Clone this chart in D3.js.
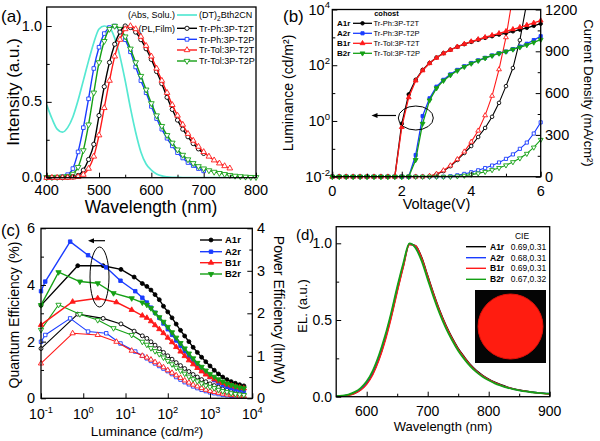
<!DOCTYPE html>
<html><head><meta charset="utf-8">
<script src="https://cdn.jsdelivr.net/npm/d3@7"></script>
<style>html,body{margin:0;padding:0;background:#fff;}</style>
</head><body>
<svg id="chart" width="600" height="441" xmlns="http://www.w3.org/2000/svg"></svg>
<script>
// ================= DATA =================
// (a) absorption / PL spectra
const wlPL = [400,410,420,430,440,450,460,470,480,490,500,510,520,530,540,550,560,570,580,590,600,610,620,630,640,650,660,670,680,690,700,710,720,730,740,750,760,770,780,790,800];
const absDT = [.48,.39,.32,.30,.33,.40,.51,.64,.77,.89,.98,1.0,.99,.92,.80,.64,.46,.30,.17,.09,.05,.025,.012,.006,.003,.002,.001,0,0,0,0,0,0,0,0,0,0,0,0,0,0];
const plPhT2T = [0,0,0,0,.002,.005,.015,.05,.12,.22,.41,.6,.76,.88,.96,1.0,.99,.96,.91,.85,.78,.70,.62,.53,.45,.38,.32,.27,.225,.19,.16,null,null,null,null,null,null,null,null,null,null];
const plPhT2P = [0,0,.003,.007,.02,.06,.17,.33,.52,.72,.86,.95,.99,1.0,.97,.91,.83,.73,.64,.56,.47,.39,.32,.26,.21,.165,.13,.10,.08,.06,.045,null,null,null,null,null,null,null,null,null,null];
const plTolT2T = [0,0,0,0,0,.002,.006,.02,.06,.14,.28,.46,.64,.8,.91,.98,1.0,.98,.93,.87,.8,.72,.64,.56,.48,.41,.35,.29,.245,.205,.17,.14,.115,.095,.077,.062,null,null,null,null,null];
const plTolT2P = [.003,.004,.005,.006,.01,.025,.07,.18,.35,.56,.76,.9,.98,1.0,.98,.93,.85,.76,.67,.58,.49,.41,.34,.28,.23,.185,.15,.12,.095,.075,.06,.048,.038,.03,.023,.017,.012,.009,.006,.004,.003];
const aNames = ["Tr-Ph:3P-T2T","Tr-Ph:3P-T2P","Tr-Tol:3P-T2T","Tr-Tol:3P-T2P"];
const aXTicks = [400,500,600,700,800];
const aYTicks = [0,0.5,1.0];

// (b) L-J-V
const volts = [0,0.2,0.4,0.6,0.8,1.0,1.2,1.4,1.6,1.8,2.0,2.2,2.4,2.6,2.8,3.0,3.2,3.4,3.6,3.8,4.0,4.2,4.4,4.6,4.8,5.0,5.2,5.4,5.6,5.8,6.0];
const lumA1r = [.01,.01,.01,.01,.01,.01,.01,.01,.01,.01,0.8,9,30,68,120,190,270,360,460,570,690,820,960,1100,1260,1430,1650,1900,2200,2600,3100];
const lumA2r = [.01,.01,.01,.01,.01,.01,.01,.01,.01,.01,.01,.01,0.06,1.5,6.5,17,30,47,68,92,120,150,185,225,270,310,380,470,590,800,1100];
const lumB1r = [.01,.01,.01,.01,.01,.01,.01,.01,.01,.01,0.6,7,28,65,118,185,265,355,460,580,710,850,1010,1190,1400,1650,1950,2300,2750,3300,4000];
const lumB2r = [.01,.01,.01,.01,.01,.01,.01,.01,.01,.01,.01,.01,0.04,0.8,5.5,15,28,44,64,88,115,145,180,220,265,310,370,440,530,660,830];
const jA1r = [0,0,0,0,0,0,0,0,0,0,0,0,0,0,3,18,40,75,120,170,220,285,350,430,530,650,780,980,1250,null,null];
const jA2r = [0,0,0,0,0,0,0,0,0,0,0,0,0,0,0,0,0,3,10,20,32,46,62,80,102,128,160,200,245,310,390];
const jB1r = [0,0,0,0,0,0,0,0,0,0,0,0,0,0,5,20,45,80,125,180,250,330,440,580,770,1000,1300,null,null,null,null];
const jB2r = [0,0,0,0,0,0,0,0,0,0,0,0,0,0,0,0,0,0,3,8,15,24,35,48,63,82,105,132,165,210,265];
const bDevices = ["A1r","A2r","B1r","B2r"];
const bHosts = ["Tr-Ph:3P-T2T","Tr-Ph:3P-T2P","Tr-Tol:3P-T2T","Tr-Tol:3P-T2P"];

// (c) efficiencies vs luminance
const lumCA1r = [0.1,0.74,2.95,7.8,16,25,32,40,50,63,79,100,126,158,200,251,316,398,501,631,794,1000,1259,1585,1995,2512,3162,3981,5012,6310];
const eqeA1r = [3.28,4.68,4.68,4.55,4.28,4.05,3.95,3.82,3.66,3.48,3.25,3.05,2.84,2.62,2.4,2.2,2.0,1.8,1.62,1.45,1.29,1.14,0.99,0.86,0.75,0.66,0.59,0.53,0.48,0.44];
const peA1r = [1.17,1.98,1.88,1.75,1.58,1.47,1.41,1.33,1.25,1.17,1.08,1.0,0.92,0.84,0.77,0.7,0.63,0.56,0.5,0.44,0.39,0.34,0.3,0.26,0.22,0.19,0.16,0.13,0.11,0.09];
const lumCA2r = [0.1,0.126,0.49,1.3,3.5,7.6,17,25,32,40,50,63,79,100,126,158,200,251,316,398,501,631,794,1000,1259,1585,1995,2512,3162,3981,5012,6310];
const eqeA2r = [3.78,4.12,5.53,5.05,4.62,4.15,3.78,3.55,3.38,3.2,3.02,2.84,2.64,2.44,2.24,2.04,1.85,1.66,1.48,1.31,1.15,1.0,0.87,0.75,0.64,0.55,0.47,0.41,0.36,0.32,0.29,0.27];
const peA2r = [1.33,1.49,1.88,1.57,1.53,1.29,1.1,1.0,0.94,0.88,0.82,0.76,0.7,0.64,0.57,0.5,0.44,0.38,0.33,0.28,0.24,0.2,0.17,0.14,0.12,0.1,0.08,0.07,0.06,0.05,0.04,0.04];
const lumCB1r = [0.1,0.56,2.2,6.1,14,25,32,40,50,63,79,100,126,158,200,251,316,398,501,631,794,1000,1259,1585,1995,2512,3162,3981,5012,6310];
const eqeB1r = [2.59,3.41,3.53,3.39,3.12,2.92,2.84,2.72,2.58,2.44,2.3,2.14,1.98,1.81,1.65,1.49,1.34,1.2,1.07,0.95,0.84,0.75,0.67,0.6,0.54,0.49,0.45,0.41,0.38,0.35];
const peB1r = [0.82,1.53,1.49,1.33,1.12,1.0,0.96,0.91,0.85,0.79,0.73,0.66,0.6,0.54,0.48,0.42,0.37,0.32,0.28,0.24,0.2,0.17,0.15,0.13,0.11,0.09,0.08,0.07,0.06,0.05];
const lumCB2r = [0.1,0.26,0.83,2.2,5.2,14,25,32,40,50,63,79,100,126,158,200,251,316,398,501,631,794,1000,1259,1585,1995,2512,3162,3981,5012,6310];
const eqeB2r = [3.29,4.45,4.12,4.06,3.71,3.53,3.38,3.3,3.18,3.02,2.86,2.7,2.52,2.33,2.14,1.95,1.76,1.58,1.41,1.25,1.11,0.98,0.86,0.76,0.67,0.59,0.52,0.47,0.42,0.38,0.35];
const peB2r = [1.61,2.2,1.98,1.84,1.65,1.49,1.33,1.26,1.18,1.11,1.04,0.96,0.88,0.8,0.72,0.65,0.58,0.51,0.45,0.4,0.35,0.3,0.27,0.24,0.2,0.17,0.15,0.12,0.1,0.09,0.08];
const cXTicks = [0.1,1,10,100,1000,10000];
const cXExp = ["-1","0","1","2","3","4"];

// (d) EL spectra
const wlEL = [550,560,570,580,590,600,610,620,630,640,650,660,670,680,690,700,710,720,730,740,750,760,770,780,790,800,810,820,830,840,850,860,870,880,890,900];
const elA1r = [0.003,0.005,0.01,0.022,0.045,0.085,0.15,0.245,0.37,0.52,0.69,0.85,0.995,0.985,0.91,0.79,0.67,0.56,0.465,0.385,0.315,0.26,0.21,0.17,0.14,0.115,0.095,0.078,0.064,0.053,0.044,0.037,0.031,0.026,0.022,0.019];
const elA2r = [0.003,0.006,0.012,0.026,0.05,0.094,0.162,0.26,0.385,0.535,0.705,0.86,0.995,0.975,0.895,0.775,0.655,0.545,0.452,0.374,0.305,0.25,0.202,0.164,0.134,0.11,0.09,0.074,0.061,0.05,0.042,0.035,0.03,0.026,0.023,0.021];
const elB1r = [0.002,0.004,0.009,0.02,0.042,0.08,0.143,0.237,0.36,0.51,0.68,0.845,0.99,0.985,0.905,0.785,0.665,0.555,0.46,0.38,0.31,0.255,0.205,0.166,0.136,0.112,0.092,0.076,0.062,0.051,0.043,0.036,0.03,0.025,0.021,0.018];
const elB2r = [0.004,0.007,0.014,0.03,0.056,0.1,0.17,0.27,0.395,0.545,0.715,0.87,1.0,0.97,0.885,0.765,0.645,0.538,0.445,0.368,0.3,0.245,0.198,0.16,0.13,0.107,0.087,0.072,0.059,0.049,0.041,0.034,0.029,0.025,0.022,0.02];
const cieLabels = ["0.69,0.31","0.68,0.31","0.69,0.31","0.67,0.32"];

// ================= DRAWING =================
const svg = d3.select("#chart");
const F = "Arial, 'Liberation Sans', Helvetica, sans-serif";
const BLACK="#000000", BLUE="#1a3cff", RED="#ff1a1a", GREEN="#15a015", CYAN="#55e8d2";
const SYM = {
  circle:{type:d3.symbolCircle, rot:false},
  square:{type:d3.symbolSquare, rot:false},
  up:{type:d3.symbolTriangle, rot:false},
  down:{type:d3.symbolTriangle, rot:true}
};

function text(g,x,y,s,o={}){
  const t=g.append("text").attr("x",x).attr("y",y).attr("font-family",F)
    .attr("font-size",o.size||12).attr("fill",o.fill||"#000");
  if(o.anchor) t.attr("text-anchor",o.anchor);
  if(o.weight) t.attr("font-weight",o.weight);
  if(o.rotate!=null) t.attr("transform",`rotate(${o.rotate},${x},${y})`);
  t.text(s);
  return t;
}
function supText(g,x,y,base,exp,o={}){
  const size=o.size||12;
  const t=g.append("text").attr("x",x).attr("y",y).attr("font-family",F)
    .attr("font-size",size).attr("text-anchor",o.anchor||"middle").attr("fill","#000");
  t.append("tspan").text(base);
  t.append("tspan").attr("dy",-size*0.42).attr("font-size",size*0.66).text(exp);
  return t;
}
function frame(g,x0,y0,x1,y1){
  g.append("rect").attr("x",x0).attr("y",y0).attr("width",x1-x0).attr("height",y1-y0)
    .attr("fill","none").attr("stroke","#000").attr("stroke-width",1.3);
}
function ticks(g,scale,orient,at,values,len){
  const gen={bottom:d3.axisBottom,left:d3.axisLeft,right:d3.axisRight,top:d3.axisTop}[orient](scale)
    .tickValues(values).tickSize(-len).tickFormat("");
  const a=g.append("g").attr("transform",(orient==="bottom"||orient==="top")?`translate(0,${at})`:`translate(${at},0)`).call(gen);
  a.select(".domain").remove();
  a.selectAll("line").attr("stroke","#000").attr("stroke-width",1);
}
function series(g,xs,ys,x,y,color,sym,size,filled,lw,curve,clipId){
  const pts=xs.map((v,i)=>[v,ys[i]]).filter(d=>d[1]!=null);
  const p=g.append("path").datum(pts)
    .attr("d",d3.line().x(d=>x(d[0])).y(d=>y(d[1])).curve(curve||d3.curveLinear))
    .attr("fill","none").attr("stroke",color).attr("stroke-width",lw).attr("stroke-linejoin","round");
  if(clipId) p.attr("clip-path",`url(#${clipId})`);
  if(sym){
    const [ylo,yhi]=d3.extent(y.range());
    g.selectAll(null).data(pts.filter(d=>y(d[1])>=ylo-1 && y(d[1])<=yhi+1)).enter().append("path")
      .attr("d",d3.symbol().type(sym.type).size(size))
      .attr("transform",d=>`translate(${x(d[0])},${y(d[1])})${sym.rot?" rotate(180)":""}`)
      .attr("fill",filled?color:"#fff").attr("stroke",color).attr("stroke-width",0.9);
  }
}
function legendMark(g,x0,x1,yc,color,sym,size,filled,lw){
  g.append("line").attr("x1",x0).attr("x2",x1).attr("y1",yc).attr("y2",yc).attr("stroke",color).attr("stroke-width",lw);
  if(sym) g.append("path").attr("d",d3.symbol().type(sym.type).size(size))
    .attr("transform",`translate(${(x0+x1)/2},${yc})${sym.rot?" rotate(180)":""}`)
    .attr("fill",filled?color:"#fff").attr("stroke",color).attr("stroke-width",0.9);
}
function arrowLeft(g,x1,x2,y){
  g.append("line").attr("x1",x1).attr("x2",x2+4).attr("y1",y).attr("y2",y).attr("stroke","#000").attr("stroke-width",1.2);
  g.append("path").attr("d",`M${x2},${y} L${x2+6},${y-2.5} L${x2+6},${y+2.5} Z`).attr("fill","#000");
}
const defs=svg.append("defs");

// ---------- Panel (a) ----------
{
  const g=svg.append("g");
  const x=d3.scaleLinear().domain([400,800]).range([46.7,256]);
  const y=d3.scaleLinear().domain([0,1]).range([177.7,26]);
  defs.append("clipPath").attr("id","clipA").append("rect").attr("x",46.7).attr("y",7).attr("width",209.3).attr("height",170.7);
  series(g,wlPL,absDT,x,y,CYAN,null,0,false,1.7,d3.curveMonotoneX,"clipA");
  series(g,wlPL,plPhT2P,x,y,BLUE,SYM.square,13,false,1.4,d3.curveMonotoneX,"clipA");
  series(g,wlPL,plTolT2P,x,y,GREEN,SYM.down,14,false,1.4,d3.curveMonotoneX,"clipA");
  series(g,wlPL,plPhT2T,x,y,BLACK,SYM.circle,14,false,1.4,d3.curveMonotoneX,"clipA");
  series(g,wlPL,plTolT2T,x,y,RED,SYM.up,14,false,1.4,d3.curveMonotoneX,"clipA");
  frame(g,46.7,7,256,177.7);
  ticks(g,x,"bottom",177.7,aXTicks,5);
  ticks(g,x,"bottom",177.7,[450,550,650,750],3);
  ticks(g,y,"left",46.7,aYTicks,5);
  ticks(g,y,"left",46.7,[0.25,0.75],3);
  aXTicks.forEach(v=>text(g,x(v),195,String(v),{size:14.5,anchor:"middle"}));
  aYTicks.forEach(v=>text(g,42,y(v)+4.5,d3.format(".1f")(v),{size:14.5,anchor:"end"}));
  text(g,151,213,"Wavelength (nm)",{size:17.5,anchor:"middle"});
  text(g,19,92,"Intensity (a.u.)",{size:17,anchor:"middle",rotate:-90});
  // legend
  const rows=[15,28.3,39.3,50,61];
  text(g,175,rows[0]+3.2,"(Abs, Solu.)",{size:9,anchor:"end"});
  legendMark(g,177,197,rows[0],CYAN,null,0,false,1.7);
  const t0=g.append("text").attr("x",199).attr("y",rows[0]+3.2).attr("font-family",F).attr("font-size",9);
  t0.append("tspan").text("(DT)");
  t0.append("tspan").attr("dy",2.5).attr("font-size",6.5).text("2");
  t0.append("tspan").attr("dy",-2.5).text("Bth2CN");
  text(g,175,rows[1]+3.2,"(PL,Film)",{size:9,anchor:"end"});
  const cols=[BLACK,BLUE,RED,GREEN], syms=[SYM.circle,SYM.square,SYM.up,SYM.down];
  aNames.forEach((n,i)=>{
    legendMark(g,177,197,rows[i+1],cols[i],syms[i],14,false,1.4);
    text(g,199,rows[i+1]+3.2,n,{size:9});
  });
  text(g,1,22,"(a)",{size:17});
}

// ---------- Panel (b) ----------
{
  const g=svg.append("g");
  const x=d3.scaleLinear().domain([0,6]).range([332.3,540.7]);
  const yL=d3.scaleLog().domain([1e-2,1e4]).range([176.7,9.5]);
  const yR=d3.scaleLinear().domain([0,1200]).range([176.7,9.5]);
  defs.append("clipPath").attr("id","clipB").append("rect").attr("x",332.3).attr("y",9.5).attr("width",208.4).attr("height",167.2);
  const cols=[BLACK,BLUE,RED,GREEN], syms=[SYM.circle,SYM.square,SYM.up,SYM.down];
  const lums=[lumA1r,lumA2r,lumB1r,lumB2r], js=[jA1r,jA2r,jB1r,jB2r];
  js.forEach((d,i)=>series(g,volts,d,x,yR,cols[i],syms[i],10,false,1.1,d3.curveLinear,"clipB"));
  lums.forEach((d,i)=>series(g,volts,d,x,yL,cols[i],syms[i],10,true,1.3,d3.curveLinear,"clipB"));
  frame(g,332.3,9.5,540.7,176.7);
  ticks(g,x,"bottom",176.7,[0,2,4,6],5);
  ticks(g,x,"bottom",176.7,[1,3,5],3);
  ticks(g,yL,"left",332.3,[1e-2,1,1e2,1e4],5);
  ticks(g,yL,"left",332.3,[1e-1,10,1e3],3);
  ticks(g,yR,"right",540.7,[0,300,600,900,1200],5);
  ticks(g,yR,"right",540.7,[150,450,750,1050],3);
  [0,2,4,6].forEach(v=>text(g,x(v),195.5,String(v),{size:14.5,anchor:"middle"}));
  [[1e-2,"-2"],[1,"0"],[1e2,"2"],[1e4,"4"]].forEach(([v,e])=>supText(g,330,yL(v)+5,"10",e,{size:14.5,anchor:"end"}));
  [0,300,600,900,1200].forEach(v=>text(g,545,yR(v)+5,String(v),{size:14.5,anchor:"start"}));
  text(g,436.5,209,"Voltage(V)",{size:14.5,anchor:"middle"});
  text(g,293,93,"Luminance (cd/m²)",{size:14,anchor:"middle",rotate:-90});
  text(g,584,93,"Current Density (mA/cm²)",{size:13,anchor:"middle",rotate:90});
  // legend
  text(g,386.5,16,"cohost",{size:7.5,anchor:"middle",weight:"bold"});
  const rows=[23.3,33.3,43.3,53.3];
  bDevices.forEach((n,i)=>{
    text(g,337,rows[i]+2.8,n,{size:8,weight:"bold"});
    legendMark(g,353,372,rows[i],cols[i],syms[i],10,true,1.3);
    text(g,373.5,rows[i]+2.8,bHosts[i],{size:7.5});
  });
  g.append("ellipse").attr("cx",415.8).attr("cy",118).attr("rx",17.5).attr("ry",12).attr("fill","none").attr("stroke","#000").attr("stroke-width",1);
  arrowLeft(g,396,371.5,115.5);
  text(g,283,22,"(b)",{size:17});
}

// ---------- Panel (c) ----------
{
  const g=svg.append("g");
  const x=d3.scaleLog().domain([0.1,1e4]).range([41,252.3]);
  const yL=d3.scaleLinear().domain([0,6]).range([398.3,228.3]);
  const yR=d3.scaleLinear().domain([0,4]).range([398.3,228.3]);
  const cols=[BLACK,BLUE,RED,GREEN], syms=[SYM.circle,SYM.square,SYM.up,SYM.down];
  const lums=[lumCA1r,lumCA2r,lumCB1r,lumCB2r], eqes=[eqeA1r,eqeA2r,eqeB1r,eqeB2r], pes=[peA1r,peA2r,peB1r,peB2r];
  pes.forEach((d,i)=>series(g,lums[i],d,x,yR,cols[i],syms[i],12,false,1.1,d3.curveLinear,null));
  eqes.forEach((d,i)=>series(g,lums[i],d,x,yL,cols[i],syms[i],12,true,1.4,d3.curveLinear,null));
  frame(g,41,228.3,252.3,398.3);
  ticks(g,x,"bottom",398.3,cXTicks,5);
  ticks(g,yL,"left",41,[0,2,4,6],5);
  ticks(g,yL,"left",41,[1,3,5],3);
  ticks(g,yR,"right",252.3,[0,1,2,3,4],5);
  ticks(g,yR,"right",252.3,[0.5,1.5,2.5,3.5],3);
  cXTicks.forEach((v,i)=>supText(g,x(v),419,"10",cXExp[i],{size:14,anchor:"middle"}));
  [0,2,4,6].forEach(v=>text(g,35,yL(v)+5,String(v),{size:14.5,anchor:"end"}));
  [0,1,2,3,4].forEach(v=>text(g,257,yR(v)+5,String(v),{size:14.5,anchor:"start"}));
  text(g,147,436,"Luminance (cd/m²)",{size:13.5,anchor:"middle"});
  text(g,19,315,"Quantum Efficiency (%)",{size:14,anchor:"middle",rotate:-90});
  text(g,274,310,"Power Efficiency (lm/W)",{size:14,anchor:"middle",rotate:90});
  const rows=[240,251.7,262.7,274];
  ["A1r","A2r","B1r","B2r"].forEach((n,i)=>{
    legendMark(g,200,222,rows[i],cols[i],syms[i],12,true,1.4);
    text(g,225,rows[i]+3.3,n,{size:9.5,weight:"bold"});
  });
  g.append("ellipse").attr("cx",99.5).attr("cy",277).attr("rx",9.5).attr("ry",30).attr("fill","none").attr("stroke","#000").attr("stroke-width",1);
  arrowLeft(g,105,88,240.7);
  text(g,1,236,"(c)",{size:16.5});
}

// ---------- Panel (d) ----------
{
  const g=svg.append("g");
  const x=d3.scaleLinear().domain([550,900]).range([336.2,549.7]);
  const y=d3.scaleLinear().domain([0,1]).range([396.7,243.3]);
  defs.append("clipPath").attr("id","clipD").append("rect").attr("x",336.2).attr("y",226.7).attr("width",213.5).attr("height",170);
  series(g,wlEL,elA1r,x,y,BLACK,null,0,false,1.4,d3.curveMonotoneX,"clipD");
  series(g,wlEL,elA2r,x,y,BLUE,null,0,false,1.4,d3.curveMonotoneX,"clipD");
  series(g,wlEL,elB1r,x,y,RED,null,0,false,1.4,d3.curveMonotoneX,"clipD");
  series(g,wlEL,elB2r,x,y,GREEN,null,0,false,1.8,d3.curveMonotoneX,"clipD");
  frame(g,336.2,226.7,549.7,396.7);
  ticks(g,x,"bottom",396.7,[600,700,800,900],5);
  ticks(g,x,"bottom",396.7,[650,750,850],3);
  ticks(g,y,"left",336.2,[0,0.5,1],5);
  ticks(g,y,"left",336.2,[0.25,0.75],3);
  [600,700,800,900].forEach(v=>text(g,x(v),416,String(v),{size:14,anchor:"middle"}));
  [0,0.5,1].forEach(v=>text(g,332,y(v)+5,d3.format(".1f")(v),{size:14,anchor:"end"}));
  text(g,443,431,"Wavelength (nm)",{size:13,anchor:"middle"});
  text(g,307,306,"EL. (a.u.)",{size:13,anchor:"middle",rotate:-90});
  // legend
  text(g,522,238.5,"CIE",{size:8.5,anchor:"middle"});
  const rows=[246.7,257.7,268.3,279.3];
  const cols=[BLACK,BLUE,RED,GREEN];
  ["A1r","A2r","B1r","B2r"].forEach((n,i)=>{
    legendMark(g,466,486,rows[i],cols[i],null,0,false,1.4);
    text(g,490,rows[i]+3,n,{size:8.5,weight:"bold"});
    text(g,510.7,rows[i]+3,cieLabels[i],{size:8.5});
  });
  // device photo inset
  g.append("rect").attr("x",475).attr("y",290).attr("width",71).attr("height",73).attr("fill","#050505");
  g.append("circle").attr("cx",510.5).attr("cy",326.5).attr("r",32.5).attr("fill","#ff1c10").attr("stroke","#e01008").attr("stroke-width",1);
  text(g,296,240,"(d)",{size:15});
}
</script>
</body></html>
